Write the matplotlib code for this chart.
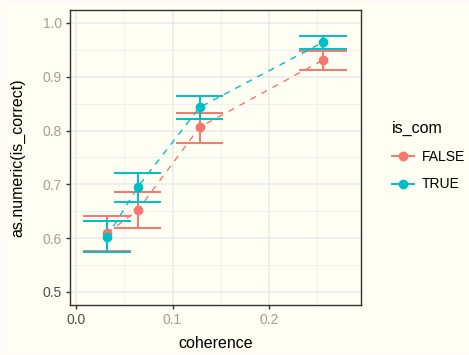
import matplotlib.pyplot as plt
from matplotlib.lines import Line2D
from matplotlib.patches import Rectangle
from matplotlib.ticker import MultipleLocator

plt.rcParams['font.family'] = ['Liberation Sans', 'DejaVu Sans']

red = '#F8766D'
teal = '#00BFC4'
ivory = '#FFFEF2'

coherence = [0.032, 0.064, 0.128, 0.256]

false_mean = [0.609, 0.652, 0.806, 0.931]
false_lo = [0.576, 0.619, 0.777, 0.912]
false_hi = [0.641, 0.685, 0.833, 0.948]

true_mean = [0.602, 0.695, 0.843, 0.964]
true_lo = [0.574, 0.668, 0.821, 0.951]
true_hi = [0.631, 0.722, 0.865, 0.976]

cap_half = 0.0245

fig = plt.figure(figsize=(4.69, 3.55), dpi=100, facecolor='#FFFAF6')
fig.patches.append(Rectangle((8 / 469, 3 / 355), 1, 349 / 355,
                             transform=fig.transFigure, color=ivory, zorder=-10))
ax = fig.add_axes([70 / 469, 50 / 355, 291 / 469, 295 / 355])
ax.set_facecolor(ivory)

for xs, m, lo, hi, col in [(coherence, false_mean, false_lo, false_hi, red),
                           (coherence, true_mean, true_lo, true_hi, teal)]:
    ax.vlines(xs, lo, hi, color=col, lw=1.4, zorder=3)
    left = [x - cap_half for x in xs]
    right = [x + cap_half for x in xs]
    ax.hlines(lo, left, right, color=col, lw=1.4, zorder=3)
    ax.hlines(hi, left, right, color=col, lw=1.4, zorder=3)
    ax.plot(xs, m, color=col, lw=1.0, dashes=(4.5, 4.5), zorder=3)
    ax.plot(xs, m, 'o', color=col, ms=6, zorder=4)

ax.set_xlim(-0.0062, 0.2953)
ax.set_ylim(0.4758, 1.024)
ax.xaxis.set_minor_locator(MultipleLocator(0.05))
ax.yaxis.set_minor_locator(MultipleLocator(0.05))
ax.set_xticks([0.0, 0.1, 0.2])
ax.set_xticklabels(['0.0', '0.1', '0.2'])
ax.set_yticks([0.5, 0.6, 0.7, 0.8, 0.9, 1.0])
ax.set_yticklabels(['0.5', '0.6', '0.7', '0.8', '0.9', '1.0'])

ax.grid(which='major', color='#EBE9EE', lw=1.1, zorder=0)
ax.grid(which='minor', color='#EFEEF0', lw=0.6, zorder=0)
ax.set_axisbelow(True)

for s in ax.spines.values():
    s.set_color('#333333')
    s.set_linewidth(1.0)
ax.tick_params(which='major', length=3, width=1.0, color='#333333',
               labelsize=10, pad=3)
ax.tick_params(which='minor', length=0)

for lab in ax.get_xticklabels() + ax.get_yticklabels():
    lab.set_color('#A59C97')
ax.get_xticklabels()[0].set_color('#4D4D4D')
ax.get_yticklabels()[0].set_color('#4D4D4D')

ax.set_xlabel('coherence', fontsize=11.5, color='black', labelpad=6)
ax.set_ylabel('as.numeric(is_correct)', fontsize=11.5, color='black', labelpad=12)

handles = [Line2D([], [], color=red, lw=1.4, marker='o', ms=6),
           Line2D([], [], color=teal, lw=1.4, marker='o', ms=6)]
leg = fig.legend(handles, ['FALSE', 'TRUE'], title='is_com',
                 loc='upper left', bbox_to_anchor=(379 / 469, 1 - 108 / 355),
                 frameon=False, fontsize=10, title_fontsize=11.5,
                 handlelength=1.6, handletextpad=0.6, labelspacing=1.0)
leg._legend_box.align = 'left'

fig.savefig('out.png', dpi=100, facecolor=fig.get_facecolor())
